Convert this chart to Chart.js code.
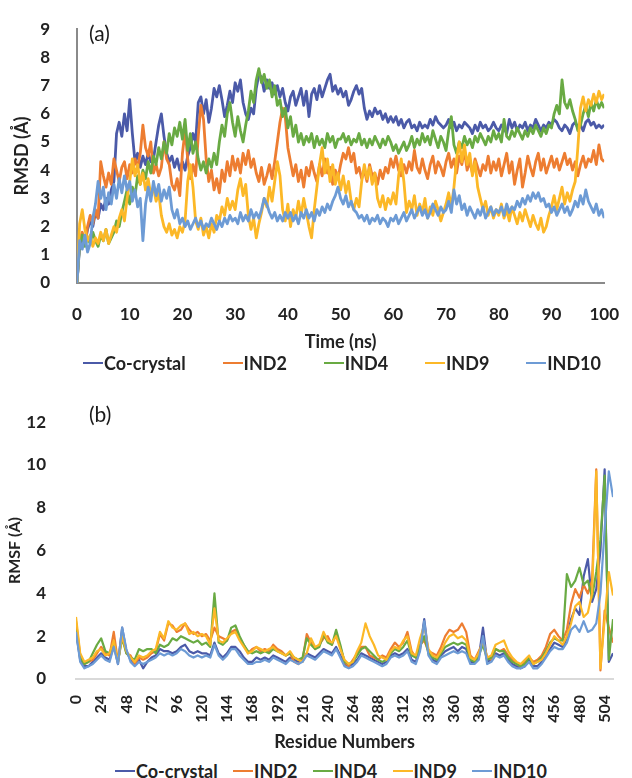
<!DOCTYPE html>
<html>
<head>
<meta charset="utf-8">
<script src="https://cdn.jsdelivr.net/npm/chart.js@4.4.1/dist/chart.umd.min.js"></script>
<style>
  html, body { margin: 0; padding: 0; background: #fff; }
  body { width: 632px; height: 778px; position: relative; overflow: hidden; }
  canvas { position: absolute; left: 0; }
  #rmsd { top: 0; }
  #rmsf { top: 390px; }
  .legend {
    position: absolute; display: flex; justify-content: space-between; align-items: center;
    height: 20px; font: bold 18px Lato, sans-serif; color: #222;
  }
  .legend .item { display: flex; align-items: center; white-space: nowrap; }
  .legend i { display: inline-block; width: 20px; height: 2px; margin-right: 1px; }
</style>
</head>
<body>
<canvas id="rmsd" width="632" height="353"></canvas>
<div class="legend" id="legend-a" style="left:83px; top:353px; width:518px;"></div>
<canvas id="rmsf" width="632" height="370"></canvas>
<div class="legend" id="legend-b" style="left:115px; top:761px; width:432px;"></div>
<script>
const SERIES_NAMES = ['Co-crystal', 'IND2', 'IND4', 'IND9', 'IND10'];
const SERIES_COLORS = ['#4b5aa8', '#ed7d31', '#69aa43', '#fcb827', '#6d9bd5'];

// (a) RMSD, sampled every 0.5 ns from 0 to 100 ns
const TIME_STEP_NS = 0.5;
const TIME_TICKS = [0, 10, 20, 30, 40, 50, 60, 70, 80, 90, 100];
const RMSD_TICKS = [0, 1, 2, 3, 4, 5, 6, 7, 8, 9];

const RMSD_COCRYSTAL = [
  0, 1.3, 1.6, 1.4, 1.9, 2.2, 2.0, 2.5, 2.3, 2.8, 2.6, 3.0, 2.8, 3.3, 3.6, 5.3, 5.7, 5.2, 6.0, 5.4,
  6.5, 5.3, 4.3, 4.6, 4.1, 4.5, 4.2, 4.6, 4.3, 4.4, 5.0, 5.6, 6.0, 5.2, 4.6, 4.3, 4.5, 4.1, 4.4, 4.0,
  4.3, 4.0, 4.5, 4.8, 5.3, 5.0, 6.4, 6.6, 6.0, 6.5, 5.7, 6.2, 6.9, 6.6, 7.0, 6.5, 5.9, 6.3, 6.8, 6.4,
  7.1, 6.8, 7.2, 6.4, 6.0, 5.8, 6.2, 6.0, 6.9, 7.4, 7.3, 6.8, 7.2, 6.9, 7.1, 6.7, 7.0, 6.6, 6.9, 6.4,
  6.1, 6.6, 6.8, 6.3, 6.6, 6.9, 6.3, 6.8, 5.9, 6.7, 6.9, 6.5, 7.0, 6.6, 6.9, 7.2, 7.4, 6.8, 7.0, 6.7,
  6.9, 6.6, 6.8, 6.3, 6.5, 6.8, 7.0, 6.7, 6.9, 6.2, 5.8, 6.1, 5.9, 6.2, 6.0, 6.1, 5.8, 6.0, 5.7, 5.9,
  5.7, 5.9, 5.6, 5.8, 5.5, 5.7, 5.8, 5.5, 5.6, 5.4, 5.7, 5.5, 5.6, 5.5, 5.8, 5.6, 5.9, 5.7, 5.6, 5.5,
  5.6, 5.8, 5.5, 5.7, 5.4, 5.6, 5.5, 5.7, 5.6, 5.5, 5.3, 5.6, 5.4, 5.7, 5.5, 5.6, 5.4, 5.5, 5.7, 5.5,
  5.4, 5.6, 5.5, 5.3, 5.8, 5.5, 5.7, 5.4, 5.6, 5.5, 5.7, 5.4, 5.6, 5.5, 5.8, 5.6, 5.4, 5.6, 5.5, 5.7,
  5.6, 5.8, 5.7, 5.5, 5.4, 5.6, 5.5, 5.3, 5.6, 5.7, 5.5, 5.6, 5.4, 5.7, 5.8, 5.6, 5.7, 5.5, 5.6, 5.5,
  5.6
];
const RMSD_IND2 = [
  0, 1.5, 1.8, 1.4, 2.0, 2.4, 2.1, 2.6, 2.3, 4.3, 3.8, 3.4, 3.9, 3.5, 4.4, 4.0, 3.6, 4.1, 4.3, 3.7,
  4.2, 3.9, 4.4, 4.1, 4.6, 5.6, 4.8, 4.5, 5.0, 3.9, 4.2, 3.8, 4.1, 5.0, 4.4, 4.2, 3.5, 3.3, 3.7, 3.1,
  4.6, 5.4, 4.4, 3.7, 4.2, 3.8, 5.2, 6.3, 5.8, 4.4, 3.6, 4.0, 3.3, 3.7, 3.2, 4.0, 3.6, 4.3, 3.8, 4.5,
  4.0, 4.4, 3.9, 4.6, 4.2, 4.7, 4.1, 4.4, 3.9, 3.6, 4.1, 3.5, 3.8, 4.2, 3.7, 4.3, 5.0, 5.7, 6.2, 5.9,
  4.8, 4.3, 3.8, 4.2, 3.6, 4.0, 3.4, 4.1, 3.8, 4.3, 3.9, 3.6, 4.2, 3.8, 4.4, 3.9, 4.1, 3.5, 4.0, 3.7,
  4.2, 4.6, 4.4, 4.8, 4.3, 4.6, 3.9, 4.1, 3.7, 4.0, 3.6, 4.2, 3.8, 3.9, 3.5, 4.0, 3.7, 4.1, 3.9, 4.4,
  4.1, 4.5, 4.0, 3.8, 4.2, 3.9, 4.3, 4.0, 4.7, 4.1, 3.9, 4.4, 4.0, 3.7, 4.2, 4.5, 3.9, 4.3, 4.1, 3.8,
  4.3, 4.6, 4.1, 4.4, 3.9, 4.5, 4.2, 4.7, 4.0, 4.3, 3.9, 4.4, 4.1, 3.8, 4.2, 4.0, 4.5, 3.9, 4.3, 4.0,
  4.4, 3.8, 4.2, 4.6, 3.9, 4.3, 3.5, 4.0, 4.4, 3.4, 3.9, 4.5, 4.1, 3.8, 4.3, 4.6, 4.0, 4.4, 3.9, 4.2,
  4.5, 4.1, 4.4, 4.0, 4.3, 4.6, 4.2, 4.4, 4.0, 4.3, 3.8, 4.2, 4.5, 4.1, 4.4, 4.3, 4.7, 4.2, 4.9, 4.4,
  4.3
];
const RMSD_IND4 = [
  0, 1.4, 1.7, 1.3, 1.6, 1.4, 1.8, 1.5, 1.3, 1.7, 1.5, 1.9, 1.4, 1.6, 1.8, 2.2, 2.0, 2.5, 2.9, 3.3,
  2.8, 3.4, 3.1, 3.8, 3.5, 4.0, 3.7, 4.3, 3.9, 4.5, 4.2, 4.8, 4.4, 5.0, 4.6, 5.3, 4.9, 5.5, 5.2, 5.7,
  5.1, 5.8, 4.7, 5.3, 4.6, 5.0, 4.4, 4.0, 4.3, 3.9, 4.4, 4.1, 4.6, 4.2, 5.0, 5.6, 5.2, 6.0, 6.4, 5.7,
  5.2, 5.9, 5.4, 5.0, 5.6, 6.1, 6.8, 6.4, 7.2, 7.6, 7.1, 7.4, 6.9, 7.2, 6.6, 7.0, 6.3, 6.5, 5.9, 6.2,
  5.5, 5.9, 5.2, 5.6, 5.0, 5.3, 4.9, 5.2, 5.0, 5.3, 4.8, 5.2, 4.9, 5.1, 4.8, 5.3, 5.0, 5.2, 4.8, 5.1,
  5.1, 5.3, 5.0, 5.2, 4.9, 5.1, 5.0, 5.3, 4.9, 5.1, 4.8, 5.1, 4.9, 5.2, 5.0, 4.8, 5.1, 4.9, 5.2, 5.0,
  4.7, 4.9, 4.6, 4.8, 5.0, 4.7, 4.9, 5.2, 4.8, 5.1, 4.9, 5.3, 5.0, 5.2, 4.9, 5.4, 5.1, 4.8, 5.2, 5.0,
  4.7, 5.4, 5.9, 4.9, 4.6, 5.0, 4.8, 5.2, 4.9, 5.1, 4.8, 5.2, 5.0, 5.3, 5.1, 4.9, 5.2, 5.0, 5.4, 5.1,
  5.3, 5.0, 5.8, 5.2, 5.1, 5.4, 5.2, 5.5, 5.3, 5.1, 5.4, 5.2, 5.5, 5.3, 5.6, 5.4, 5.2, 5.5, 5.3, 5.6,
  5.5, 6.0, 6.3, 6.0, 7.2, 6.4, 6.2, 6.5, 6.1, 5.8, 5.4, 5.6, 6.0, 6.3, 5.9, 6.4, 6.1, 6.5, 6.2, 6.4,
  6.2
];
const RMSD_IND9 = [
  0, 2.1, 2.6, 1.9, 1.5, 1.7, 1.3, 1.6, 1.4, 1.8, 1.5, 1.9, 1.4, 1.7, 2.0, 1.8, 2.3, 2.6, 2.2, 3.0,
  3.6, 4.4, 3.8, 4.2, 3.5, 3.9, 3.3, 3.7, 3.1, 3.4, 2.9, 3.2, 2.4, 2.0, 1.8, 2.1, 1.7, 1.9, 1.6, 2.0,
  1.8, 2.2, 3.6, 4.2, 3.4, 2.2, 1.9, 2.3, 1.7, 2.0, 1.6, 2.1, 1.8, 2.4, 2.2, 2.7, 2.4, 3.0, 2.6, 2.9,
  2.6, 3.3, 3.7, 3.1, 3.5, 2.4, 1.9, 2.3, 1.6, 2.1, 2.5, 3.0, 2.7, 3.4, 2.9, 3.6, 4.3, 3.8, 2.6, 2.2,
  2.8, 2.0, 2.6, 2.3, 2.9, 2.4, 3.0, 2.5, 2.0, 1.6, 2.6, 3.4, 4.2, 4.8, 3.9, 4.4, 3.6, 4.2, 3.5, 3.9,
  3.3, 3.8, 3.2, 3.6, 2.9, 2.6, 3.0, 2.7, 3.6, 4.2, 3.7, 4.1, 3.5, 3.9, 3.0, 2.7, 3.1, 2.6, 3.0, 2.8,
  3.2, 2.8, 3.8, 4.4, 3.6, 2.5, 2.9, 2.6, 3.1, 2.4, 2.8, 2.5, 3.0, 2.3, 2.7, 2.4, 2.9, 2.6, 2.2, 2.5,
  2.8, 3.2, 2.7, 3.4, 4.4, 5.0, 4.3, 4.9, 4.2, 4.6, 3.8, 4.3, 3.4, 3.0, 2.6, 2.9, 2.4, 2.7, 2.3, 2.6,
  2.4, 2.8, 2.3, 2.6, 2.2, 2.7, 2.4, 2.1, 2.5, 2.2, 2.6, 2.3, 2.0, 2.4, 2.1, 1.9, 2.3, 1.8, 2.0, 2.4,
  2.7, 3.1, 2.6, 3.0, 3.4, 2.8, 3.2, 2.9, 3.3, 3.6, 4.8, 6.2, 6.6, 6.1, 6.5, 6.3, 6.7, 6.4, 6.8, 6.5,
  6.7
];
const RMSD_IND10 = [
  0, 1.5, 1.2, 1.7, 1.1, 1.4, 2.3, 2.8, 3.6, 3.0, 3.4, 2.6, 3.2, 2.8, 3.5, 3.0, 3.7, 3.2, 3.8, 3.3,
  3.6, 2.9, 3.3, 2.7, 3.0, 1.5, 2.8, 3.4, 2.9, 3.6, 3.1, 3.5, 2.9, 3.3, 3.0, 3.4, 2.6, 2.3, 2.6, 2.1,
  2.3, 2.0, 2.2, 1.9, 2.1, 2.3, 2.0, 2.2, 1.9, 2.1, 2.0, 2.3, 2.1, 1.9, 2.2, 2.0, 2.3, 2.1, 2.4, 2.2,
  2.3, 2.1, 2.5, 2.2, 2.4, 2.2, 2.6, 2.3, 2.5, 2.3, 2.6, 3.0, 2.8, 2.5, 2.3, 2.5, 2.2, 2.4, 2.2, 2.5,
  2.3, 2.5, 2.2, 2.4, 2.1, 2.5, 2.3, 2.6, 2.3, 2.5, 2.2, 2.6, 2.4, 2.7, 2.5, 2.8, 2.6, 2.9, 3.1, 3.4,
  3.0, 2.8, 3.1, 2.7, 2.9, 2.6, 2.5, 2.3, 2.4, 2.2, 2.4, 2.1, 2.3, 2.2, 2.4, 2.1, 2.3, 2.2, 2.0, 2.3,
  2.2, 2.4, 2.1, 2.3, 2.5, 2.2, 2.4, 2.6, 2.3, 2.5, 2.7, 2.4, 2.6, 2.3, 2.5, 2.8, 2.6, 2.4, 2.7, 2.5,
  2.6, 2.9, 2.5, 3.3, 2.8, 3.1, 2.6, 2.8, 2.4, 2.7, 2.5, 2.3, 2.6, 2.4, 2.7, 2.3, 2.5, 2.7, 2.4, 2.6,
  2.5, 2.7, 2.4, 2.8, 2.5, 2.7, 2.6, 2.9, 2.7, 3.0, 2.8, 3.1, 2.9, 3.2, 3.0, 3.2, 2.9, 3.0, 2.7, 2.8,
  2.5, 2.7, 2.4, 2.6, 2.8, 2.5, 2.7, 2.4, 2.6, 2.9, 2.7, 3.1, 2.8, 3.3, 2.9, 2.7, 2.5, 2.8, 2.4, 2.6,
  2.3
];

// (b) RMSF, sampled every 4 residues from 0 to 512
const RESIDUE_STEP = 4;
const RESIDUE_TICKS = [0, 24, 48, 72, 96, 120, 144, 168, 192, 216, 240, 264, 288, 312, 336, 360, 384, 408, 432, 456, 480, 504];
const RMSF_TICKS = [0, 2, 4, 6, 8, 10, 12];

const RMSF_COCRYSTAL = [
  2.2, 0.9, 0.6, 0.6, 0.8, 1.0, 1.2, 1.0, 0.9, 1.6, 0.7, 2.4,
  1.3, 0.9, 0.7, 0.9, 0.5, 0.8, 1.0, 1.1, 1.4, 1.3, 1.3, 1.2,
  1.3, 1.5, 1.6, 1.3, 1.2, 1.3, 1.2, 1.2, 1.1, 1.7, 1.2, 1.0,
  1.2, 1.5, 1.5, 1.3, 1.0, 0.8, 0.8, 1.0, 0.9, 1.0, 0.9, 1.1,
  1.0, 0.9, 0.8, 1.0, 0.9, 0.8, 0.9, 1.2, 1.1, 1.0, 1.2, 1.4,
  1.3, 1.2, 1.5, 1.1, 0.7, 0.6, 0.7, 0.9, 1.2, 1.1, 1.0, 0.9,
  0.8, 0.7, 0.8, 1.1, 1.2, 1.1, 1.2, 1.4, 0.9, 0.8, 1.4, 2.8,
  1.2, 0.9, 0.8, 1.1, 1.3, 1.4, 1.5, 1.3, 1.5, 1.4, 0.8, 0.8,
  1.0, 2.4, 0.8, 0.9, 1.2, 1.1, 1.2, 0.9, 0.7, 0.6, 0.5, 0.6,
  0.9, 0.6, 0.6, 0.8, 1.1, 1.4, 1.7, 1.6, 1.5, 1.9, 2.8, 3.3,
  3.0, 4.8, 5.6, 3.6, 4.2, 6.0, 9.8, 0.8, 1.2
];
const RMSF_IND2 = [
  2.7, 1.1, 0.7, 0.8, 0.9, 1.2, 1.5, 1.2, 1.1, 2.2, 0.8, 2.1,
  1.2, 1.1, 0.7, 1.0, 0.9, 1.0, 1.2, 1.3, 2.1, 1.8, 2.6, 2.5,
  2.2, 2.3, 2.6, 2.3, 2.1, 2.2, 2.0, 2.1, 1.8, 2.4, 2.0, 1.9,
  1.8, 2.2, 2.3, 1.9, 1.6, 1.2, 1.4, 1.5, 1.3, 1.4, 1.3, 1.6,
  1.4, 1.3, 1.1, 1.2, 0.8, 0.7, 0.9, 2.1, 1.7, 1.4, 1.6, 1.9,
  2.0, 1.6, 2.1, 1.5, 0.8, 0.6, 0.9, 1.2, 1.5, 1.5, 1.1, 1.0,
  0.9, 1.1, 1.0, 1.4, 1.7, 1.5, 1.7, 2.2, 1.3, 1.0, 1.6, 1.8,
  1.3, 1.2, 1.1, 1.5, 2.0, 2.3, 2.2, 2.3, 2.6, 2.2, 1.1, 0.9,
  1.3, 1.7, 1.0, 0.9, 1.4, 1.3, 1.4, 1.1, 0.9, 0.7, 0.6, 0.8,
  1.0, 0.8, 0.9, 1.1, 1.5, 2.1, 2.3, 2.0, 1.8, 2.3, 3.5, 4.2,
  3.8, 4.4, 4.0, 4.6, 9.8, 0.4, 3.2, 2.4, 1.7
];
const RMSF_IND4 = [
  2.3, 1.0, 0.7, 0.8, 1.2, 1.6, 1.9, 1.3, 1.2, 1.7, 0.8, 1.9,
  1.2, 1.0, 0.9, 1.4, 1.3, 1.4, 1.4, 1.2, 1.6, 1.5, 1.6, 1.9,
  1.8, 2.0, 1.9, 1.8, 1.7, 1.8, 1.6, 1.7, 1.5, 4.0, 1.7, 1.6,
  1.8, 2.4, 2.5, 2.0, 1.6, 1.3, 1.2, 1.3, 1.2, 1.3, 1.2, 1.4,
  1.3, 1.2, 1.1, 1.2, 1.0, 0.9, 1.0, 1.9, 1.6, 1.4, 1.5, 2.1,
  1.7, 1.6, 2.3, 1.6, 0.8, 0.7, 0.8, 1.1, 1.4, 1.5, 1.3, 1.1,
  0.9, 0.8, 0.9, 1.2, 1.4, 1.3, 1.5, 1.8, 1.1, 1.0, 1.5, 2.0,
  1.2, 1.0, 0.9, 1.2, 1.5, 1.6, 1.7, 1.6, 1.7, 1.6, 0.9, 0.8,
  1.1, 1.6, 0.9, 1.0, 1.4, 1.3, 1.3, 1.0, 0.8, 0.7, 0.6, 0.7,
  1.0, 0.7, 0.8, 1.0, 1.3, 1.7, 1.9, 1.8, 1.8, 4.9, 4.3, 4.6,
  5.2, 4.4, 4.6, 3.8, 5.0, 6.5, 9.5, 0.9, 2.8
];
const RMSF_IND9 = [
  2.9, 1.2, 0.8, 0.9, 1.0, 1.3, 1.4, 1.1, 1.2, 1.8, 0.8, 2.0,
  1.3, 1.0, 0.8, 1.1, 1.0, 1.1, 1.3, 1.4, 2.2, 1.9, 2.7, 2.4,
  2.3, 2.5, 2.6, 2.1, 2.2, 2.0, 2.1, 2.0, 1.6, 3.3, 1.8, 1.7,
  1.9, 2.1, 2.2, 1.8, 1.5, 1.2, 1.3, 1.5, 1.4, 1.3, 1.4, 1.5,
  1.3, 1.2, 1.1, 1.3, 1.0, 0.9, 0.8, 1.2, 1.9, 1.5, 1.6, 2.2,
  1.8, 1.7, 2.0, 1.4, 0.9, 0.7, 0.8, 1.3, 1.7, 2.6, 2.0, 1.6,
  1.1, 1.0, 0.9, 1.3, 1.5, 1.4, 1.8, 2.0, 1.2, 1.1, 1.9, 2.5,
  1.4, 1.1, 1.0, 1.3, 1.7, 2.0, 2.1, 1.9, 2.0, 1.8, 1.0, 0.9,
  1.2, 1.8, 1.0, 1.1, 1.6, 1.7, 1.8, 1.3, 1.0, 0.8, 0.7, 0.9,
  1.1, 0.7, 0.8, 0.9, 1.2, 1.6, 2.0, 1.8, 1.6, 2.0, 2.6, 3.4,
  3.6, 2.9, 3.1, 4.0, 9.7, 0.5, 2.8, 5.0, 3.9
];
const RMSF_IND10 = [
  2.2, 0.8, 0.5, 0.6, 0.7, 0.9, 1.1, 0.9, 0.8, 1.5, 0.7, 2.4,
  1.4, 0.8, 0.6, 0.8, 0.7, 0.8, 0.9, 1.0, 1.2, 1.1, 1.2, 1.1,
  1.2, 1.4, 1.3, 1.1, 1.0, 1.1, 1.0, 1.1, 1.0, 1.6, 1.1, 0.9,
  1.1, 1.4, 1.4, 1.1, 0.9, 0.7, 0.7, 0.8, 0.8, 0.9, 0.8, 1.0,
  0.9, 0.8, 0.7, 0.9, 0.8, 0.7, 0.8, 1.1, 1.0, 0.9, 1.1, 1.3,
  1.2, 1.1, 1.4, 1.0, 0.6, 0.5, 0.6, 0.8, 1.1, 1.0, 0.9, 0.8,
  0.7, 0.6, 0.7, 1.0, 1.1, 1.0, 1.1, 1.3, 0.8, 0.7, 1.3, 2.7,
  1.1, 0.8, 0.7, 1.0, 1.1, 1.2, 1.3, 1.2, 1.3, 1.2, 0.7, 0.7,
  0.9, 2.0, 0.7, 0.8, 1.1, 1.0, 1.1, 0.8, 0.6, 0.5, 0.5, 0.6,
  0.8, 0.5, 0.5, 0.7, 1.0, 1.3, 1.5, 1.4, 1.4, 1.7, 2.3, 2.5,
  2.2, 2.7, 2.2, 2.3, 2.6, 4.0, 7.0, 9.7, 8.5
];

const RMSD_SERIES = [RMSD_COCRYSTAL, RMSD_IND2, RMSD_IND4, RMSD_IND9, RMSD_IND10];
const RMSF_SERIES = [RMSF_COCRYSTAL, RMSF_IND2, RMSF_IND4, RMSF_IND9, RMSF_IND10];

const FONT = 'Lato, sans-serif';
const TEXT_COLOR = '#222';
Chart.defaults.font.family = FONT;
Chart.defaults.color = TEXT_COLOR;

function toPoints(values, step) {
  return values.map((v, i) => ({ x: i * step, y: v }));
}

function fixedTicks(list) {
  return (scale) => { scale.ticks = list.map(v => ({ value: v })); };
}

// "(a)" / "(b)" panel tags
const panelTag = {
  id: 'panelTag',
  afterDraw(chart, args, opts) {
    const ctx = chart.ctx;
    ctx.save();
    ctx.font = '21px ' + FONT;
    ctx.fillStyle = '#1a1a1a';
    ctx.textBaseline = 'middle';
    ctx.fillText(opts.text, opts.x, opts.y);
    ctx.restore();
  }
};

function makeDatasets(series, step, width) {
  return series.map((vals, i) => ({
    label: SERIES_NAMES[i],
    data: toPoints(vals, step),
    borderColor: SERIES_COLORS[i],
    backgroundColor: SERIES_COLORS[i],
    borderWidth: width,
    pointRadius: 0,
    tension: 0,
    borderJoinStyle: 'round',
    // last series drawn on top, like the original
    order: series.length - i
  }));
}

const boldFont = (size) => ({ size: size, weight: 'bold' });

new Chart(document.getElementById('rmsd'), {
  type: 'line',
  data: { datasets: makeDatasets(RMSD_SERIES, TIME_STEP_NS, 2.8) },
  options: {
    responsive: false,
    animation: false,
    events: [],
    layout: { padding: { top: 20, right: 15, left: 0, bottom: 0 } },
    plugins: {
      legend: { display: false },
      tooltip: { enabled: false },
      panelTag: { text: '(a)', x: 89, y: 34 }
    },
    scales: {
      x: {
        type: 'linear',
        min: 0,
        max: 100,
        afterBuildTicks: fixedTicks(TIME_TICKS),
        afterFit: (s) => { s.height = 70; },
        grid: { display: false },
        border: { display: true, color: '#8a8a8a', width: 2 },
        ticks: { padding: 13, color: TEXT_COLOR, font: boldFont(17) },
        title: { display: true, text: 'Time (ns)', color: TEXT_COLOR, font: boldFont(18), padding: { top: 0, bottom: 0 } }
      },
      y: {
        min: 0,
        max: 9,
        afterBuildTicks: fixedTicks(RMSD_TICKS),
        afterFit: (s) => { s.width = 77; },
        grid: { display: false },
        border: { display: true, color: '#8a8a8a', width: 2 },
        ticks: { padding: 19, color: TEXT_COLOR, font: boldFont(17) },
        title: { display: true, text: 'RMSD (Å)', color: TEXT_COLOR, font: boldFont(18), padding: { top: 11, bottom: 0 } }
      }
    }
  },
  plugins: [panelTag]
});

new Chart(document.getElementById('rmsf'), {
  type: 'line',
  data: { datasets: makeDatasets(RMSF_SERIES, RESIDUE_STEP, 2.2) },
  options: {
    responsive: false,
    animation: false,
    events: [],
    layout: { padding: { top: 21, right: 10, left: 0, bottom: 0 } },
    plugins: {
      legend: { display: false },
      tooltip: { enabled: false },
      panelTag: { text: '(b)', x: 89, y: 25 }
    },
    scales: {
      x: {
        type: 'linear',
        min: 0,
        max: 512,
        afterBuildTicks: fixedTicks(RESIDUE_TICKS),
        afterFit: (s) => { s.height = 81; },
        grid: { display: false },
        border: { display: true, color: '#d9d9d9', width: 2 },
        ticks: { padding: 8, autoSkip: false, minRotation: 90, maxRotation: 90, color: TEXT_COLOR, font: boldFont(16) },
        title: { display: true, text: 'Residue Numbers', color: TEXT_COLOR, font: boldFont(18), padding: { top: 0, bottom: 7 } }
      },
      y: {
        min: 0,
        max: 12,
        afterBuildTicks: fixedTicks(RMSF_TICKS),
        afterFit: (s) => { s.width = 76; },
        grid: { display: false },
        border: { display: false },
        ticks: { padding: 22, color: TEXT_COLOR, font: boldFont(17) },
        title: { display: true, text: 'RMSF (Å)', color: TEXT_COLOR, font: boldFont(16), padding: { top: 5, bottom: 0 } }
      }
    }
  },
  plugins: [panelTag]
});

// HTML legends, one per panel
function buildLegend(id) {
  const el = document.getElementById(id);
  SERIES_NAMES.forEach((name, i) => {
    const item = document.createElement('span');
    item.className = 'item';
    const swatch = document.createElement('i');
    swatch.style.background = SERIES_COLORS[i];
    item.appendChild(swatch);
    item.appendChild(document.createTextNode(name));
    el.appendChild(item);
  });
}
buildLegend('legend-a');
buildLegend('legend-b');
</script>
</body>
</html>
